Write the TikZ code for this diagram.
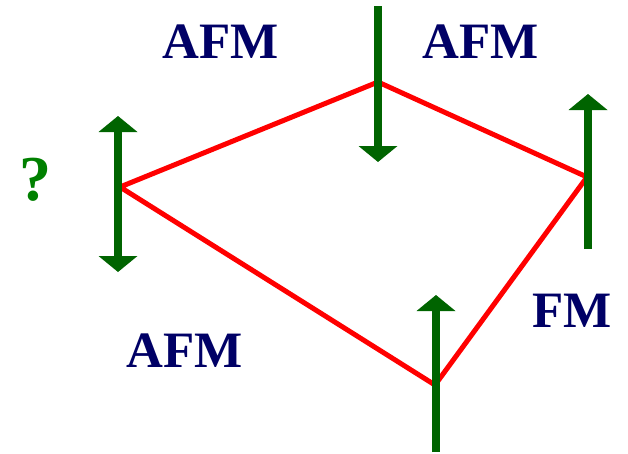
\documentclass[tikz,border=0pt]{standalone}
\usepackage{fontspec}
\setmainfont{Liberation Serif}
\usetikzlibrary{arrows.meta}
\definecolor{spinGreen}{RGB}{0,100,0}
\definecolor{qGreen}{RGB}{0,128,0}
\definecolor{labNavy}{RGB}{0,0,102}
\begin{document}
\begin{tikzpicture}[x=1pt,y=-1pt,
  spin/.style={draw=spinGreen,line width=8pt,
    -{Triangle[width=39pt,length=16pt,line width=0pt,fill=spinGreen]}},
  spinboth/.style={draw=spinGreen,line width=8pt,
    {Triangle[width=39pt,length=16pt,line width=0pt,fill=spinGreen]}-{Triangle[width=39pt,length=16pt,line width=0pt,fill=spinGreen]}},
  bond/.style={draw=red,line width=5pt,line join=miter},
  lab/.style={text=labNavy,font=\fontsize{51}{51}\selectfont\bfseries,inner sep=0pt,anchor=base},
  qlab/.style={text=qGreen,font=\fontsize{64}{64}\selectfont\bfseries,inner sep=0pt,anchor=base}]
\useasboundingbox (0,0) rectangle (628,453);
% lattice sites
\coordinate (L) at (120,187);
\coordinate (T) at (378,82);
\coordinate (R) at (587,177);
\coordinate (B) at (435,385);
% spin end points
\coordinate (La) at (118,116);
\coordinate (Lb) at (118,272);
\coordinate (Ta) at (378,6);
\coordinate (Tb) at (378,162);
\coordinate (Ra) at (588,249);
\coordinate (Rb) at (588,94);
\coordinate (Ba) at (436,452);
\coordinate (Bb) at (436,295);
% bonds
\draw[bond] (L) -- (T) -- (R) -- (B) -- cycle;
% spins
\draw[spinboth] (La) -- (Lb);
\draw[spin] (Ta) -- (Tb);
\draw[spin] (Ra) -- (Rb);
\draw[spin] (Ba) -- (Bb);
% labels
\node[lab] (afm1) at (221,58) {AFM};
\node[lab] (afm2) at (481,58) {AFM};
\node[lab] (fm) at (572,327) {FM};
\node[lab] (afm3) at (185,367) {AFM};
\node[qlab] (q) at (35,200) {?};
\end{tikzpicture}
\end{document}
